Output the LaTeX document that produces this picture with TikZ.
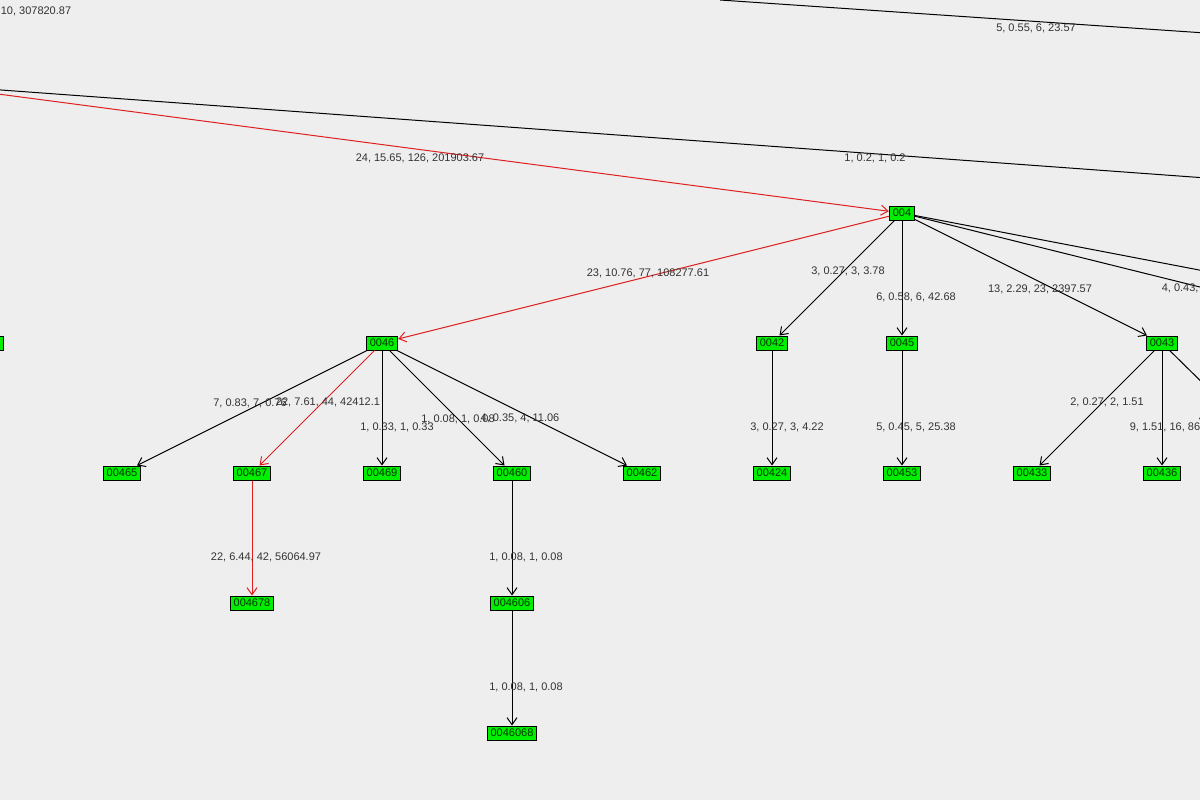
\documentclass[tikz,border=0pt]{standalone}
\usepackage{fontspec}
\setmainfont{Liberation Sans}
\usetikzlibrary{arrows.meta}
\definecolor{bg}{HTML}{EEEEEE}
\definecolor{nodegreen}{HTML}{00EE00}
\definecolor{redline}{HTML}{E02020}
\definecolor{txt}{HTML}{333333}
\begin{document}
\begin{tikzpicture}[x=1pt,y=-1pt,line width=1pt,
  nd/.style={draw=black,line width=1pt,fill=nodegreen,font=\fontsize{11}{12}\selectfont,inner xsep=3.5pt,inner ysep=1.5pt,minimum height=14pt,text=black!80!green},
  lbl/.style={font=\fontsize{11}{12}\selectfont,text=txt},
  ed/.style={draw=black,-{Straight Barb[length=7pt,width=10pt]}},
  red/.style={draw=redline,-{Straight Barb[length=7pt,width=10pt]}}]
\fill[bg] (0,0) rectangle (1200,800);
\useasboundingbox (0,0) rectangle (1200,800);
\clip (0,0) rectangle (1200,800);
\node[nd] (n004) at (902,213) {004};
\node[nd] (n0046) at (382,343) {0046};
\node[nd] (n0042) at (772,343) {0042};
\node[nd] (n0045) at (902,343) {0045};
\node[nd] (n0043) at (1162,343) {0043};
\node[nd] (n0041) at (-12,343) {0041};
\node[nd] (n00465) at (122,473) {00465};
\node[nd] (n00467) at (252,473) {00467};
\node[nd] (n00469) at (382,473) {00469};
\node[nd] (n00460) at (512,473) {00460};
\node[nd] (n00462) at (642,473) {00462};
\node[nd] (n00424) at (772,473) {00424};
\node[nd] (n00453) at (902,473) {00453};
\node[nd] (n00433) at (1032,473) {00433};
\node[nd] (n00436) at (1162,473) {00436};
\node[nd] (n004678) at (252,603) {004678};
\node[nd] (n004606) at (512,603) {004606};
\node[nd] (n0046068) at (512,733) {0046068};
\coordinate (a0) at (-40,89);
\coordinate (b0) at (-40,87);
\coordinate (b1) at (1220,179);
\coordinate (t0) at (720,0);
\coordinate (t1) at (1220,34);
\coordinate (r1) at (1220,274);
\coordinate (r2) at (1220,292);
\coordinate (r3) at (1220,400);
\draw (t0) -- (t1);
\draw (b0) -- (b1);
\draw[red] (a0) -- (n004);
\draw[red] (n004) -- (n0046);
\draw[ed] (n004) -- (n0042);
\draw[ed] (n004) -- (n0045);
\draw[ed] (n004) -- (n0043);
\draw (n004) -- (r1);
\draw (n004) -- (r2);
\draw (n0043) -- (r3);
\draw[ed] (n0043) -- (n00433);
\draw[ed] (n0043) -- (n00436);
\draw[ed] (n0042) -- (n00424);
\draw[ed] (n0045) -- (n00453);
\draw[ed] (n0046) -- (n00465);
\draw[red] (n0046) -- (n00467);
\draw[ed] (n0046) -- (n00469);
\draw[ed] (n0046) -- (n00460);
\draw[ed] (n0046) -- (n00462);
\draw[red] (n00467) -- (n004678);
\draw[ed] (n00460) -- (n004606);
\draw[ed] (n004606) -- (n0046068);
\node[lbl,anchor=east] at (75,11) {10, 307820.87};
\node[lbl] at (1036,28) {5, 0.55, 6, 23.57};
\node[lbl] at (420,158) {24, 15.65, 126, 201903.67};
\node[lbl] at (875,158) {1, 0.2, 1, 0.2};
\node[lbl] at (648,273) {23, 10.76, 77, 108277.61};
\node[lbl] at (848,271) {3, 0.27, 3, 3.78};
\node[lbl] at (916,297) {6, 0.58, 6, 42.68};
\node[lbl] at (1040,289) {13, 2.29, 23, 2397.57};
\node[lbl,anchor=west] at (1158,288) {4, 0.43, 5};
\node[lbl] at (1107,402) {2, 0.27, 2, 1.51};
\node[lbl,anchor=west] at (1126,427) {9, 1.51, 16, 86.4};
\node[lbl,anchor=west] at (1195,418) {4};
\node[lbl] at (787,427) {3, 0.27, 3, 4.22};
\node[lbl] at (916,427) {5, 0.45, 5, 25.38};
\node[lbl] at (250,403) {7, 0.83, 7, 0.76};
\node[lbl] at (328,402) {22, 7.61, 44, 42412.1};
\node[lbl] at (397,427) {1, 0.33, 1, 0.33};
\node[lbl] at (458,419) {1, 0.08, 1, 0.08};
\node[lbl] at (520,418) {4, 0.35, 4, 11.06};
\node[lbl] at (266,557) {22, 6.44, 42, 56064.97};
\node[lbl] at (526,557) {1, 0.08, 1, 0.08};
\node[lbl] at (526,687) {1, 0.08, 1, 0.08};
\end{tikzpicture}
\end{document}
